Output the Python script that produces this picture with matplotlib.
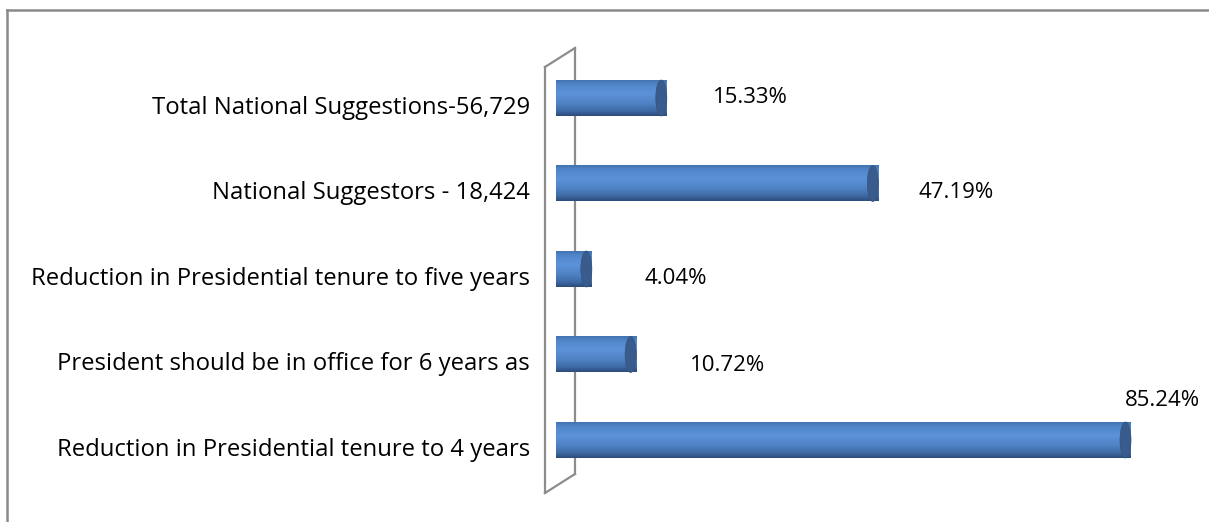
import numpy as np
import matplotlib
matplotlib.use("Agg")
import matplotlib.pyplot as plt
from matplotlib.patches import PathPatch, Ellipse
from matplotlib.path import Path
from matplotlib.colors import LinearSegmentedColormap
from matplotlib.lines import Line2D

# ---- data (top to bottom as displayed) ----
categories = [
    "Total National Suggestions-56,729",
    "National Suggestors - 18,424",
    "Reduction in Presidential tenure to five years",
    "President should be in office for 6 years as",
    "Reduction in Presidential tenure to 4 years",
]
values = [15.33, 47.19, 4.04, 10.72, 85.24]
value_labels = ["15.33%", "47.19%", "4.04%", "10.72%", "85.24%"]

# label offsets (pixels) relative to bar end / bar centre
label_dx = [46, 40, 53, 54, -6]
label_dy = [0, -9, -10, -11, 40]

plt.rcParams['font.family'] = ['Open Sans', 'DejaVu Sans']
FS_VAL = 16
FS_CAT = 17.2

W, H = 1209, 522
fig = plt.figure(figsize=(W / 100, H / 100), dpi=100)

# axes geometry (pixels)
x0_px = 565.0          # zero of value axis
px_per_unit = 6.64     # pixels per percent
y_bottom_center = 440.0  # pixel (from top) of bottom bar centre
y_step = 85.5

ax = fig.add_axes([x0_px / W, 0, 1 - x0_px / W, 1])
ax.set_xlim(0, (W - x0_px) / px_per_unit)
ax.set_ylim(-(H - y_bottom_center) / y_step, (y_bottom_center) / y_step)
ax.axis('off')

def dx(px):
    return px / px_per_unit

def dy(px):
    return px / y_step

n = len(categories)
ypos = np.arange(n)[::-1]  # top category at highest y

bar_h = dy(36)
capL = dx(9)
capR = dx(5.5)

cmap = LinearSegmentedColormap.from_list(
    "cyl", [(0.0, "#4272b0"), (0.12, "#5086c9"), (0.38, "#5c92d8"),
            (0.65, "#4e82c4"), (0.85, "#3f6ba6"), (1.0, "#2d4b78")])
grad = np.linspace(0, 1, 256).reshape(-1, 1)

# wall (3D back plane)
wall_col = "#8c8c8c"
wx_front, wx_back = dx(545 - x0_px), dx(575 - x0_px)
wy = lambda p: (y_bottom_center - p) / y_step
ax.plot([wx_front, wx_front], [wy(67), wy(493)], color=wall_col, lw=1.6, clip_on=False, zorder=1)
ax.plot([wx_back, wx_back], [wy(48), wy(474)], color=wall_col, lw=1.6, clip_on=False, zorder=1)
ax.plot([wx_front, wx_back], [wy(67), wy(48)], color=wall_col, lw=1.6, clip_on=False, zorder=1)
ax.plot([wx_front, wx_back], [wy(493), wy(474)], color=wall_col, lw=1.6, clip_on=False, zorder=1)

t = np.linspace(0, np.pi, 40)
for y, v, lab, ldx, ldy in zip(ypos, values, value_labels, label_dx, label_dy):
    xe = v - capR
    top, bot = y + bar_h / 2, y - bar_h / 2
    left = np.column_stack([0 - capL * np.sin(t), y + bar_h / 2 * np.cos(t)])
    right = np.column_stack([xe + capR * np.sin(t), y - bar_h / 2 * np.cos(t)])
    verts = np.vstack([left, right, left[:1]])
    codes = [Path.MOVETO] + [Path.LINETO] * (len(verts) - 2) + [Path.CLOSEPOLY]
    patch = PathPatch(Path(verts, codes), facecolor="none", edgecolor="none", clip_on=False, zorder=3)
    ax.add_patch(patch)
    im = ax.imshow(grad, cmap=cmap, aspect='auto', origin='upper',
                   extent=[-capL, v, bot, top], zorder=3, clip_on=False, interpolation='bilinear')
    im.set_clip_path(patch)
    face = Ellipse((xe, y), 2 * capR, bar_h, facecolor="#395c8c", edgecolor="#33537f",
                   lw=0.5, zorder=4, clip_on=False)
    ax.add_patch(face)
    ax.annotate(lab, xy=(v, y), xytext=(ldx, ldy), textcoords='offset pixels',
                ha='left', va='center', fontsize=FS_VAL, color='black', annotation_clip=False)

for y, c in zip(ypos, categories):
    ax.text(dx(530 - x0_px), y - dy(10), c, ha='right', va='center', fontsize=FS_CAT,
            color='black', clip_on=False)

# outer chart border
fig.add_artist(Line2D([7 / W, 1], [1 - 9.5 / H, 1 - 9.5 / H], color="#8a8a8a", lw=1.8,
                      transform=fig.transFigure))
fig.add_artist(Line2D([7 / W, 7 / W], [0, 1 - 9.5 / H], color="#8a8a8a", lw=1.8,
                      transform=fig.transFigure))

fig.savefig("out.png", dpi=100)
